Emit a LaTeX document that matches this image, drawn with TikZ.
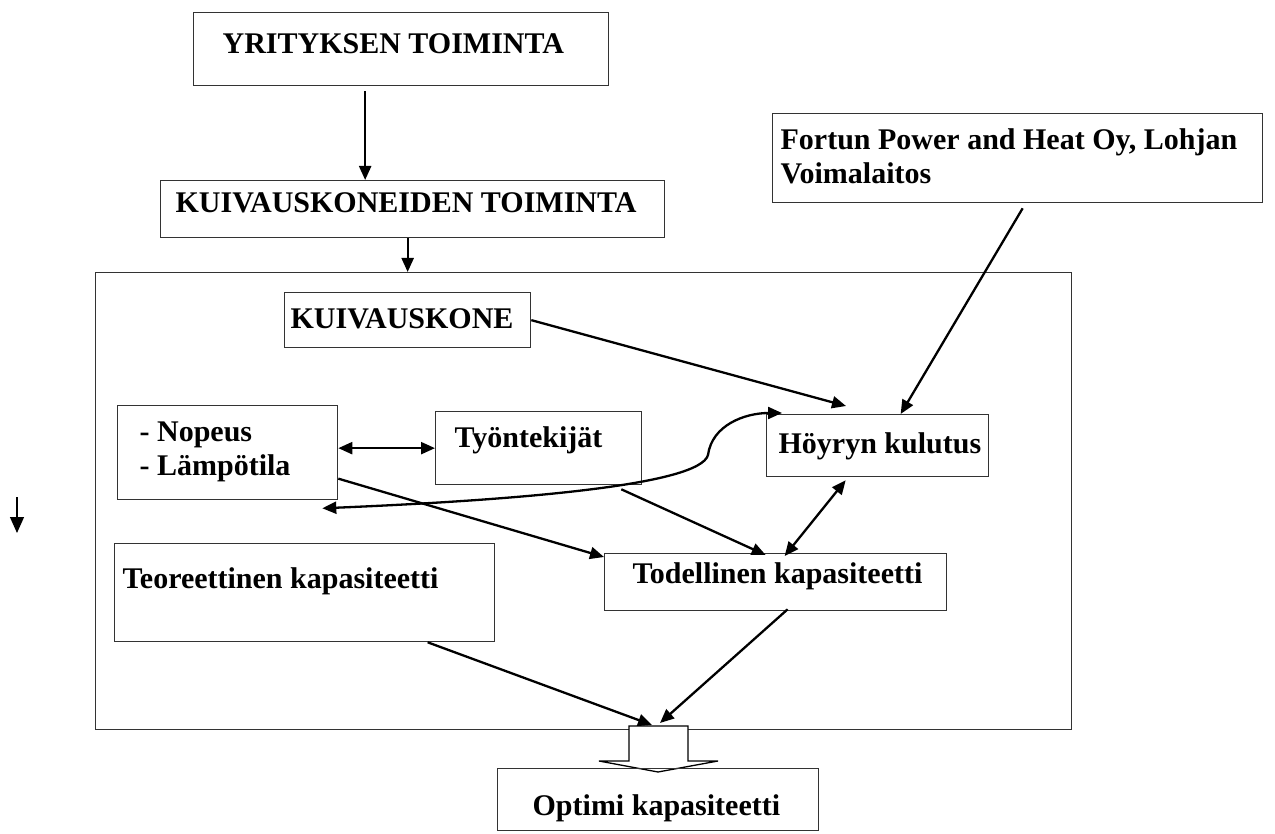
\documentclass[tikz,border=0pt]{standalone}
\usepackage{fontspec}
\setmainfont{Liberation Serif}
\usepackage{tikz}
\usetikzlibrary{arrows.meta}
\def\BoxLine{1.3pt}
\def\ArrLine{2.3pt}

\begin{document}
\begin{tikzpicture}[x=1pt,y=-1pt,
	blk/.style={draw=black!80, line width=\BoxLine, anchor=north west, inner sep=0pt,
		align=flush left, font=\bfseries\fontsize{30}{34}\selectfont},
	pil/.style={line width=\ArrLine, -{Triangle[length=14pt,width=12pt]}},
	pilb/.style={line width=\ArrLine, {Triangle[length=14pt,width=12pt]}-{Triangle[length=14pt,width=12pt]}}]
	\useasboundingbox (0,0) rectangle (1275,834);
	\node[draw=black!80, line width=\BoxLine, anchor=north west, inner sep=0pt,
		minimum width=976pt, minimum height=457pt] (alue) at (95,272) {};
	\node[blk, text width=415pt, text height=41pt, text depth=32pt] (yrit) at (193,12) {\hspace*{29pt}YRITYKSEN TOIMINTA};
	\node[blk, text width=504pt, text height=32pt, text depth=25pt] (kuivt) at (160,180) {\hspace*{15pt}KUIVAUSKONEIDEN TOIMINTA};
	\node[blk, text width=490pt, text height=36pt, text depth=53pt] (fortun) at (772,113) {\hspace*{8pt}Fortun Power and Heat Oy, Lohjan\\\hspace*{8pt}Voimalaitos};
	\node[blk, text width=246pt, text height=36pt, text depth=19pt] (kone) at (284,292) {\hspace*{6pt}KUIVAUSKONE};
	\node[blk, text width=220pt, text height=36pt, text depth=58pt] (nopeus) at (117,405) {\hspace*{22pt}- Nopeus\\\hspace*{22pt}- Lämpötila};
	\node[blk, text width=206pt, text height=36pt, text depth=37pt] (tyon) at (435,411) {\hspace*{19pt}Työntekijät};
	\node[blk, text width=222pt, text height=39pt, text depth=23pt] (hoyryn) at (766,414) {\hspace*{12pt}Höyryn kulutus};
	\node[blk, text width=380pt, text height=45pt, text depth=53pt] (teor) at (114,543) {\hspace*{8pt}Teoreettinen kapasiteetti};
	\node[blk, text width=342pt, text height=30pt, text depth=27pt] (todel) at (604,553) {\hspace*{28pt}Todellinen kapasiteetti};
	\coordinate (suu) at (656,725);
	\coordinate (v1) at (17,497);
	\coordinate (v2) at (17,533);

	\draw[pil] ([xshift=-36pt,yshift=-5pt]yrit.south) -- ([xshift=-36pt]yrit.south |- kuivt.north);
	\draw[pil] ([xshift=-5pt]kuivt.south) -- ([xshift=-5pt]kuivt.south |- alue.north);
	\draw[pil] (kone.east) -- ([xshift=80pt,yshift=8pt]hoyryn.north west);
	\draw[pil] ([xshift=5pt,yshift=-5pt]fortun.south) -- ([xshift=23pt]hoyryn.north);
	\draw[pilb] (nopeus.east |- tyon.west) -- (tyon.west);
	\draw[pilb] ([xshift=-16pt,yshift=-8pt]nopeus.south east) .. controls (520,500) and (700,485) .. (708,455)
		.. controls (712,425) and (745,413) .. ([xshift=16pt,yshift=1pt]hoyryn.north west);
	\draw[pil] ([yshift=-26pt]nopeus.east) -- ([yshift=-4pt]todel.north west);
	\draw[pil] ([xshift=-21pt,yshift=-4pt]tyon.south east) -- ([xshift=-10pt,yshift=-2pt]todel.north);
	\draw[pilb] ([xshift=-32pt,yshift=-3pt]hoyryn.south) -- ([xshift=9pt,yshift=-3pt]todel.north);
	\draw[pil] ([xshift=123pt]teor.south) -- ([xshift=-4pt]suu);
	\draw[pil] ([xshift=12pt,yshift=2pt]todel.south) -- ([xshift=4pt,yshift=2pt]suu);
	\draw[line width=1.3pt, -{Triangle[length=16pt,width=14pt]}] (v1) -- (v2);

	% iso nuoli
	\draw[line width=\BoxLine, fill=white] (629,726) -- (629,761) -- (599,761) -- (658,772)
		-- (718,761) -- (688,761) -- (688,726) -- cycle;
	\node[blk, text width=321pt, text height=47pt, text depth=15pt] (optimi) at (497,768) {\hspace*{35pt}Optimi kapasiteetti};
\end{tikzpicture}
\end{document}
